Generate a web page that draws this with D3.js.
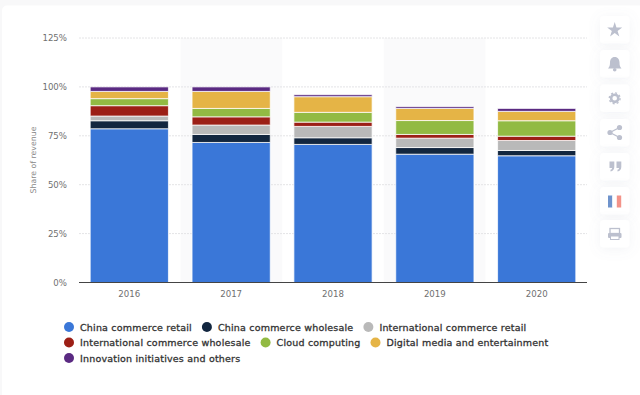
<!DOCTYPE html>
<html>
<head>
<meta charset="utf-8">
<script src="https://cdn.jsdelivr.net/npm/d3@7"></script>
<style>
    html, body { margin: 0; padding: 0; background: #f8f8f9; overflow: hidden; }
    text { font-family: "DejaVu Sans", sans-serif; }
    .grid line { stroke: #e4e4e6; stroke-dasharray: 2 1; }
</style>
</head>
<body>
<svg id="chart" width="640" height="395"></svg>
<script>
const years = ['2016', '2017', '2018', '2019', '2020'];
const seriesNames = [
    'China commerce retail',
    'China commerce wholesale',
    'International commerce retail',
    'International commerce wholesale',
    'Cloud computing',
    'Digital media and entertainment',
    'Innovation initiatives and others'
];
const seriesColors = ['#3a77d8', '#12263f', '#b9b9b9', '#9c1f16', '#92ba43', '#e5b446', '#5a2a82'];

// share of revenue per year
const chinaRetail = [78.6, 71.6, 70.6, 65.6, 64.8];
const chinaWholesale = [4.1, 4.1, 3.4, 3.4, 2.7];
const intlRetail = [2.4, 4.8, 5.8, 4.8, 5.1];
const intlWholesale = [5.3, 4.2, 2.2, 1.9, 2.2];
const cloud = [3.6, 4.3, 5.0, 7.1, 7.9];
const digitalMedia = [3.7, 8.7, 8.0, 6.2, 4.8];
const innovation = [2.3, 2.3, 1.0, 0.9, 1.5];

const yTicks = [0, 25, 50, 75, 100, 125];

const seriesValues = [chinaRetail, chinaWholesale, intlRetail, intlWholesale, cloud, digitalMedia, innovation];
const rows = years.map((year, i) => {
    const row = { year };
    seriesNames.forEach((name, s) => { row[name] = seriesValues[s][i]; });
    return row;
});

const margin = { left: 79, right: 587, top: 38, bottom: 282.5 };
const svg = d3.select('#chart');

/**
 * Card behind the chart.
 */
svg.append('rect')
    .attr('x', 2).attr('y', 5.5)
    .attr('width', 660).attr('height', 420)
    .attr('rx', 5)
    .attr('fill', '#fff');

/**
 * Scales.
 */
const xScale = d3.scaleBand().domain(years).range([margin.left, margin.right]).paddingInner(0.232).paddingOuter(0.11);
const stepScale = d3.scaleBand().domain(years).range([margin.left, margin.right]);
const yScale = d3.scaleLinear().domain([0, 125]).range([margin.bottom, margin.top]);
const colorScale = d3.scaleOrdinal().domain(seriesNames).range(seriesColors);

/**
 * Alternating column shading.
 */
svg.append('g').selectAll('rect')
    .data(years.filter((d, i) => i % 2 === 1))
    .join('rect')
        .attr('x', d => stepScale(d))
        .attr('y', margin.top)
        .attr('width', stepScale.bandwidth())
        .attr('height', margin.bottom - margin.top)
        .attr('fill', '#fafafb');

/**
 * Grid and axes.
 */
svg.append('g').attr('class', 'grid').selectAll('line')
    .data(yTicks.filter(d => d > 0))
    .join('line')
        .attr('x1', margin.left)
        .attr('x2', margin.right)
        .attr('y1', d => yScale(d))
        .attr('y2', d => yScale(d));

const yAxis = d3.axisLeft(yScale).tickValues(yTicks).tickFormat(d => d + '%').tickSize(0).tickPadding(12);
const yAxisContainer = svg.append('g').attr('transform', `translate(${margin.left},0)`).call(yAxis);
yAxisContainer.select('.domain').remove();
yAxisContainer.selectAll('text')
    .style('font-family', '"DejaVu Sans", sans-serif')
    .style('font-size', '8.6px')
    .attr('fill', '#707070');

svg.append('text')
    .attr('transform', `translate(35.5,160) rotate(-90)`)
    .attr('text-anchor', 'middle')
    .attr('font-size', 7.8)
    .attr('fill', '#888')
    .text('Share of revenue');

/**
 * Stacked bars.
 */
const series = d3.stack().keys(seriesNames)(rows);
svg.append('g').selectAll('g')
    .data(series)
    .join('g')
        .attr('fill', ({ key }) => colorScale(key))
    .selectAll('rect')
        .data(d => d)
        .join('rect')
            .attr('x', d => xScale(d.data.year))
            .attr('y', d => yScale(d[1]))
            .attr('width', xScale.bandwidth())
            .attr('height', d => yScale(d[0]) - yScale(d[1]))
            .attr('stroke', '#fff')
            .attr('stroke-opacity', 0.75)
            .attr('stroke-width', 1);

const xAxis = d3.axisBottom(xScale).tickSize(0).tickPadding(8);
const xAxisContainer = svg.append('g').attr('transform', `translate(0,${margin.bottom})`).call(xAxis);
xAxisContainer.select('.domain').attr('stroke', '#444').attr('d', `M${margin.left},0H${margin.right}`);
xAxisContainer.selectAll('text')
    .style('font-family', '"DejaVu Sans", sans-serif')
    .style('font-size', '8.6px')
    .attr('fill', '#707070');

/**
 * Legend, flowed left to right and wrapped.
 */
const legend = svg.append('g');
let legendX = 69, legendY = 327;
seriesNames.forEach(name => {
    const item = legend.append('g');
    item.append('circle').attr('cx', 0).attr('cy', 0).attr('r', 5).attr('fill', colorScale(name));
    const label = item.append('text')
        .attr('x', 11).attr('y', 3.6)
        .attr('font-size', 9.5)
        .attr('letter-spacing', 0.2)
        .attr('fill', '#333')
        .attr('stroke', '#333')
        .attr('stroke-width', 0.3)
        .text(name);
    const itemWidth = 11 + label.node().getComputedTextLength();
    if (legendX + itemWidth > 575) {
        legendX = 69;
        legendY += 15.5;
    }
    item.attr('transform', `translate(${legendX},${legendY})`);
    legendX += itemWidth + 15;
});

/**
 * Side buttons.
 */
const buttonTops = [16, 50, 84.5, 119, 153, 187, 220];
const iconColor = '#bcc0ce';
const defs = svg.append('defs');
const shadow = defs.append('filter').attr('id', 'soft').attr('x', '-60%').attr('y', '-60%').attr('width', '220%').attr('height', '220%');
shadow.append('feDropShadow').attr('dx', 0).attr('dy', 2).attr('stdDeviation', 6).attr('flood-color', '#8890a8').attr('flood-opacity', 0.1);

const buttons = svg.append('g').selectAll('g')
    .data(buttonTops)
    .join('g')
        .attr('transform', d => `translate(600,${d})`);
buttons.append('rect')
    .attr('width', 29.5).attr('height', 27.5).attr('rx', 4)
    .attr('fill', '#fff')
    .attr('filter', 'url(#soft)');

const icons = [
    g => g.append('path').attr('d', d3.symbol(d3.symbolStar, 70)()).attr('transform', 'translate(14.7,14)').attr('fill', iconColor),
    g => {
        g.append('path').attr('d', 'M14.7,7C11.5,7 10,9.5 10,12.5C10,15.5 9.5,17 8,18.5H21.5C20,17 19.5,15.5 19.5,12.5C19.5,9.5 18,7 14.7,7Z').attr('fill', iconColor);
        g.append('circle').attr('cx', 14.7).attr('cy', 19.8).attr('r', 1.8).attr('fill', iconColor);
    },
    g => {
        g.append('circle').attr('cx', 14.7).attr('cy', 13.8).attr('r', 3.6).attr('fill', 'none').attr('stroke', iconColor).attr('stroke-width', 2.6);
        g.append('circle').attr('cx', 14.7).attr('cy', 13.8).attr('r', 5.4).attr('fill', 'none').attr('stroke', iconColor).attr('stroke-width', 1.4).attr('stroke-dasharray', '2 2.2');
    },
    g => {
        g.append('path').attr('d', 'M19.5,8.5L10,13.5L19.5,18.5').attr('fill', 'none').attr('stroke', iconColor).attr('stroke-width', 1.3);
        [[19.5, 8.5], [10, 13.5], [19.5, 18.5]].forEach(c => g.append('circle').attr('cx', c[0]).attr('cy', c[1]).attr('r', 2.6).attr('fill', iconColor));
    },
    g => {
        [9.5, 16.5].forEach(x => g.append('path')
            .attr('d', `M${x},8.5h4.8v5.5c0,2.5 -1.5,4.2 -3.8,4.6v-1.8c1,-.3 1.5,-1 1.5,-1.9h-2.5Z`)
            .attr('fill', iconColor));
    },
    g => {
        g.append('rect').attr('x', 8).attr('y', 8.5).attr('width', 4.4).attr('height', 12).attr('fill', '#6f93cc');
        g.append('rect').attr('x', 12.4).attr('y', 8.5).attr('width', 4.4).attr('height', 12).attr('fill', '#fff');
        g.append('rect').attr('x', 16.8).attr('y', 8.5).attr('width', 4.4).attr('height', 12).attr('fill', '#f39389');
    },
    g => {
        g.append('rect').attr('x', 10).attr('y', 8.5).attr('width', 9.5).attr('height', 5).attr('fill', 'none').attr('stroke', iconColor).attr('stroke-width', 1.3);
        g.append('rect').attr('x', 8).attr('y', 13).attr('width', 13.5).attr('height', 5).attr('rx', 1).attr('fill', iconColor);
        g.append('rect').attr('x', 10.5).attr('y', 16).attr('width', 8.5).attr('height', 3.5).attr('fill', '#fff').attr('stroke', iconColor);
    }
];
buttons.each(function(d, i) { icons[i](d3.select(this)); });
</script>
</body>
</html>
